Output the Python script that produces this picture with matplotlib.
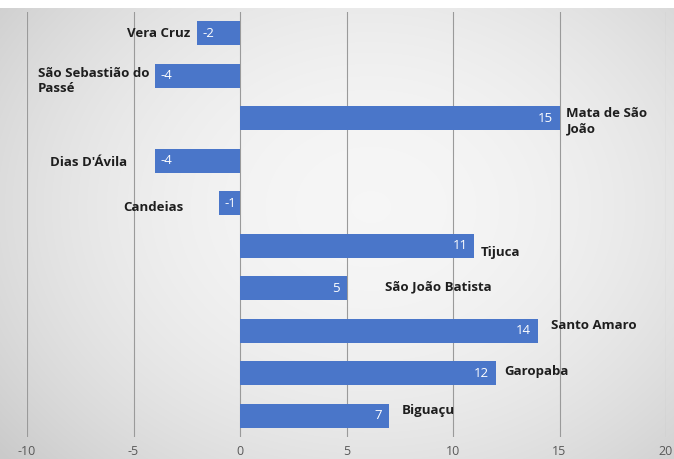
import numpy as np
import matplotlib
matplotlib.use("Agg")
import matplotlib.pyplot as plt

categories = ["Vera Cruz", "São Sebastião do\nPassé", "Mata de São\nJoão", "Dias D'Ávila",
              "Candeias", "Tijuca", "São João Batista", "Santo Amaro", "Garopaba", "Biguaçu"]
values = [-2, -4, 15, -4, -1, 11, 5, 14, 12, 7]
x_ticks = [-10, -5, 0, 5, 10, 15, 20]

# label offsets in points (layout only)
label_dx = [-5, -4, 5, -20, -25, 5, 28, 9, 6, 9]
label_dy = [0, -4, -2, -1, -3, -5, 1, 4, 1, 4]

plt.rcParams['font.family'] = ['Open Sans', 'DejaVu Sans']

fig = plt.figure(figsize=(6.74, 4.59), dpi=100)

# background gradient
bg = fig.add_axes([0, 0, 1, 1], zorder=-10)
h, w = 459, 674
yy, xx = np.mgrid[0:h, 0:w]
r = np.sqrt(((xx - w * 0.55) / (w * 0.6)) ** 2 + ((yy - h * 0.45) / (h * 0.7)) ** 2)
g = 0.965 - 0.12 * np.clip(r, 0, 1.2) ** 2
g[:8, :] = 1.0
img = np.dstack([g, g, g])
bg.imshow(img, aspect='auto', extent=[0, 1, 0, 1])
bg.axis('off')

ax = fig.add_axes([27 / 674, 1 - 437 / 459, (666 - 27) / 674, (437 - 12) / 459])
ax.patch.set_alpha(0)

y = np.arange(len(categories))
ax.barh(y, values, height=0.57, color='#4a76c9', zorder=3)
ax.set_ylim(len(categories) - 0.5, -0.5)
ax.set_xlim(x_ticks[0], x_ticks[-1])
ax.set_xticks(x_ticks)
ax.set_xticklabels([str(t) for t in x_ticks], color='#595959', fontsize=9)
ax.set_yticks([])
ax.tick_params(axis='x', length=0, pad=6)
for s in ax.spines.values():
    s.set_visible(False)
ax.grid(axis='x', color='#9a9a9a', linewidth=0.8, zorder=1)

fs = 9.5
for i, (v, name) in enumerate(zip(values, categories)):
    if v < 0:
        ax.annotate(str(v), (v, i), xytext=(4, 0), textcoords='offset points',
                    ha='left', va='center', color='white', fontsize=fs, zorder=4)
        ax.annotate(name, (v, i), xytext=(label_dx[i], label_dy[i]), textcoords='offset points',
                    ha='right', va='center', color='#1e1e1e', fontsize=fs,
                    fontweight='bold', multialignment='left', zorder=4)
    else:
        ax.annotate(str(v), (v, i), xytext=(-5, 0), textcoords='offset points',
                    ha='right', va='center', color='white', fontsize=fs, zorder=4)
        ax.annotate(name, (v, i), xytext=(label_dx[i], label_dy[i]), textcoords='offset points',
                    ha='left', va='center', color='#1e1e1e', fontsize=fs,
                    fontweight='bold', multialignment='left', zorder=4)

fig.savefig('out.png', dpi=100)
